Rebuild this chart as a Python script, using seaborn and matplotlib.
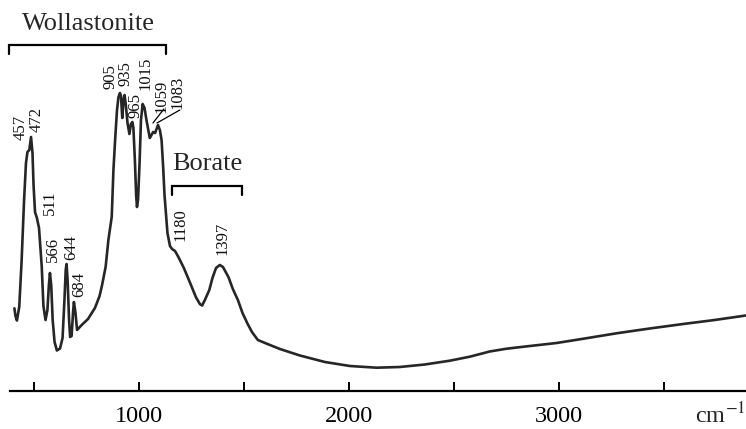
import matplotlib
matplotlib.use("Agg")
import matplotlib.pyplot as plt
import seaborn as sns
import pandas as pd

# ---- data ----
wavenumber = [409, 414, 421, 432, 443, 455, 464, 471, 480, 488, 495, 500, 507, 516, 526,
              539, 547, 557, 566, 573, 578, 584, 591, 600, 611, 626, 638, 647, 653, 657,
              662, 669, 674, 681, 688, 692, 699, 707, 729, 759, 792, 814, 826, 843, 856,
              872, 880, 888, 897, 904, 911, 916, 922, 928, 933, 939, 947, 956, 963, 970,
              975, 982, 988, 992, 997, 1004, 1011, 1019, 1028, 1037, 1053, 1061, 1069, 1078,
              1092, 1101, 1109, 1116, 1123, 1137, 1149, 1159, 1173, 1189, 1215, 1245, 1272,
              1291, 1302, 1315, 1336, 1351, 1368, 1386, 1401, 1427, 1448, 1472, 1494, 1517,
              1539, 1567, 1601, 1672, 1767, 1886, 2005, 2132, 2242, 2361, 2480, 2575, 2670,
              2750, 2861, 2988, 3122, 3273, 3431, 3590, 3740, 3888]
intensity = [82.7, 75, 70.5, 84.3, 129, 191, 228, 239, 241, 254, 238, 206, 179, 173, 163,
             124.3, 85, 71, 81, 106, 118, 106, 71, 49, 40.5, 42.5, 53, 91, 121, 127,
             111, 71, 54, 55, 79, 89, 79, 61, 66, 72, 83, 95, 106, 124.3, 151,
             174.3, 221, 251, 281, 294, 298, 295, 273, 291, 296, 286, 268, 257, 267, 269,
             263, 231, 196, 184, 191, 226, 271, 287, 283, 271, 253, 256, 259, 258,
             266, 261, 251, 226, 196, 158, 145, 142, 140, 134, 123, 108, 94,
             87, 85.5, 91, 101, 113, 123, 126, 124, 114, 102, 91, 78, 67.7,
             59, 51, 48, 42, 35.5, 29, 25, 23.3, 24, 26.5, 30.3, 34.3, 39.5,
             42.3, 45, 48, 52.5, 57.7, 62.5, 67, 71, 75.5]

peak_labels = ["457", "472", "511", "566", "644", "684", "905", "935", "965",
               "1015", "1059", "1083", "1180", "1397"]
peak_label_x = [440, 516, 578, 592, 678, 716, 866, 937, 985, 1032, 1108, 1187, 1201, 1398]
peak_label_y = [264, 271, 188, 142, 144, 107, 314, 317, 286, 318, 295, 299, 166, 153]

tick_values = [500, 1000, 1500, 2000, 2500, 3000, 3500]
tick_labels = ["", "1000", "", "2000", "", "3000", ""]

df = pd.DataFrame({"wavenumber": wavenumber, "intensity": intensity})

sns.set_theme(style="white")
plt.rcParams["font.family"] = ["Liberation Serif", "DejaVu Serif"]
plt.rcParams["mathtext.fontset"] = "stix"

W, H = 746, 429
fig = plt.figure(figsize=(W / 100, H / 100), dpi=100)
ax = fig.add_axes([10 / W, (H - 391) / H, 1 - 10 / W, 391 / H])

sns.lineplot(data=df, x="wavenumber", y="intensity", ax=ax, sort=False,
             color="#262626", linewidth=1.9, estimator=None)
for l in ax.lines:
    l.set_solid_joinstyle("round")

ax.set_xlim(388, 3889)
ax.set_ylim(0, 391)
ax.set_xlabel("")
ax.set_ylabel("")
ax.set_yticks([])
ax.set_xticks(tick_values)
ax.set_xticklabels(tick_labels)
ax.tick_params(axis="x", direction="in", length=6.5, width=1.4, color="black",
               labelsize=17.5, pad=11, labelcolor="black", bottom=True)
for s in ["top", "right", "left"]:
    ax.spines[s].set_visible(False)
ax.spines["bottom"].set_linewidth(1.6)
ax.spines["bottom"].set_color("black")
ax.patch.set_alpha(0)

# peak labels
for lab, x, y in zip(peak_labels, peak_label_x, peak_label_y):
    ax.text(x, y, lab, rotation=90, ha="center", va="center", fontsize=12,
            color="#111111")

# leader lines for 1059 / 1083
ax.plot([1120, 1068], [282, 268], color="black", lw=0.9)
ax.plot([1196, 1087], [281, 268], color="black", lw=0.9)

# Wollastonite bracket
ax.plot([383, 383, 1130, 1130], [337, 346, 346, 337], color="black", lw=1.6,
        clip_on=False, solid_joinstyle="miter")
ax.text(759, 361, "Wollastonite", ha="center", va="baseline", fontsize=19)

# Borate bracket
ax.plot([1157, 1157, 1490, 1490], [196, 205, 205, 196], color="black", lw=1.6,
        clip_on=False, solid_joinstyle="miter")
ax.text(1325, 221, "Borate", ha="center", va="baseline", fontsize=19)

# unit label
fig.text(745 / W, (H - 423) / H, r"cm$^{-1}$", ha="right", va="baseline", fontsize=17.5)

fig.savefig("out.png", dpi=100)
